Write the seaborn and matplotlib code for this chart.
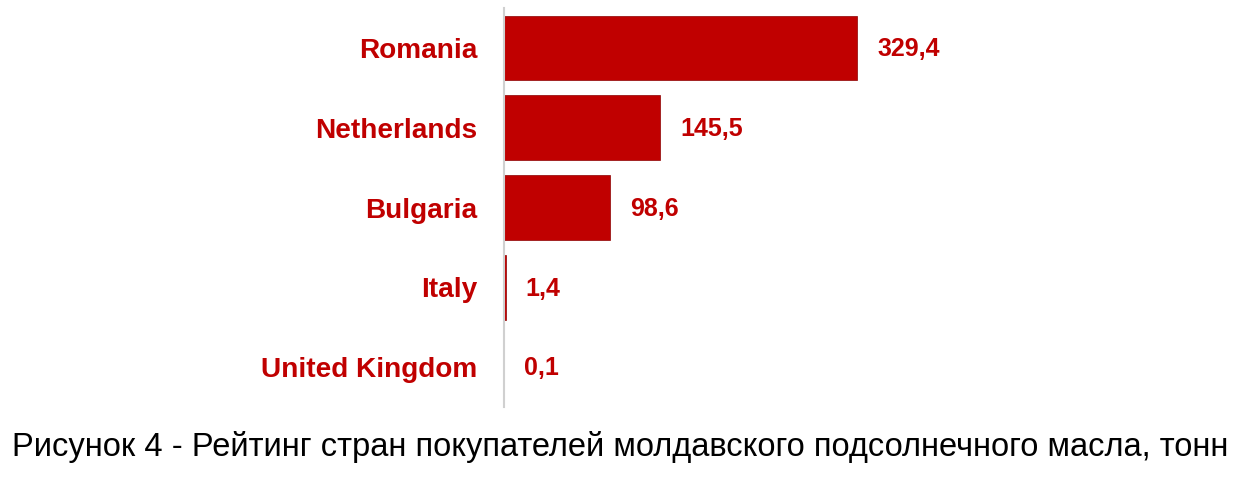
import matplotlib
matplotlib.use('Agg')
import matplotlib.pyplot as plt
import seaborn as sns
import pandas as pd

countries = ['Romania', 'Netherlands', 'Bulgaria', 'Italy', 'United Kingdom']
tonnes = [329.4, 145.5, 98.6, 1.4, 0.1]
value_labels = ['329,4', '145,5', '98,6', '1,4', '0,1']
caption = 'Рисунок 4 - Рейтинг стран покупателей молдавского подсолнечного масла, тонн'

red = '#C00000'

sns.set_style('white')
plt.rcParams['font.family'] = ['Liberation Sans', 'DejaVu Sans']

df = pd.DataFrame({'country': countries, 'tonnes': tonnes})

fig = plt.figure(figsize=(12.54, 4.84), dpi=100)
ax = fig.add_axes([504 / 1254, 1 - 407 / 484, 696 / 1254, 399 / 484])

sns.barplot(data=df, x='tonnes', y='country', color=red, saturation=1,
            width=0.81, edgecolor='#8b0000', linewidth=0.5, ax=ax)

ax.set_xlim(0, 696 / (353 / 329.4))
ax.set_xlabel('')
ax.set_ylabel('')
ax.set_xticks([])
for s in ['top', 'right', 'bottom']:
    ax.spines[s].set_visible(False)
ax.spines['left'].set_color('#d0d0d0')
ax.spines['left'].set_linewidth(1.5)
ax.tick_params(axis='y', length=0, pad=19)
for lbl in ax.get_yticklabels():
    lbl.set_color(red)
    lbl.set_fontweight('bold')
    lbl.set_fontsize(20.2)

for i, (v, t) in enumerate(zip(tonnes, value_labels)):
    ax.annotate(t, xy=(v, i), xytext=(14.5, -1), textcoords='offset points',
                ha='left', va='center', color=red, fontweight='bold', fontsize=18)

fig.text(620 / 1254, 1 - 447 / 484, caption, ha='center', va='center', fontsize=23.5, color='black')

fig.savefig('out.png', dpi=100)
